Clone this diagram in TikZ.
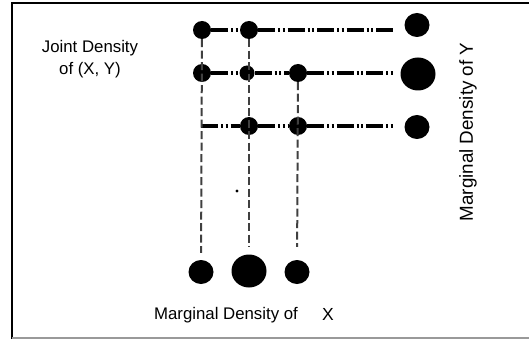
\documentclass[tikz,border=0pt]{standalone}
\usepackage{fontspec}
\setmainfont{Liberation Sans}
\usetikzlibrary{positioning,shapes.geometric}

\begin{document}
\begin{tikzpicture}[
    x=1pt, y=-1pt,
    dot/.style={circle, fill=black, inner sep=0pt, minimum size=18pt},
    smalldot/.style={dot, minimum size=15pt},
    margdot/.style={ellipse, fill=black, inner sep=0pt, minimum width=25pt, minimum height=24pt},
    bigmargdot/.style={ellipse, fill=black, inner sep=0pt, minimum width=35pt, minimum height=33pt},
    rowline/.style={line width=3.3pt, dash pattern=on 17pt off 3pt on 2pt off 2.5pt on 2pt off 3pt},
    colline/.style={draw=black!75, line width=2pt, dash pattern=on 8pt off 3.5pt},
    lbl/.style={font=\fontsize{16.8}{22}\selectfont, align=center, inner sep=0pt},
]
\useasboundingbox (0,0) rectangle (529,339);

% frame
\draw[line width=2.8pt] (12,339) -- (12,3) -- (529,3);
\draw[black!40, line width=1.8pt] (12,338) -- (529,338);

% joint density grid
\node[dot] (r1a) at (202,30) {};
\node[dot] (r1b) at (249,30) {};
\node[dot] (r2a) at (202,73) {};
\node[smalldot] (r2b) at (247,73) {};
\node[dot] (r2c) at (298,73) {};
\coordinate (s3) at (201,126);
\node[dot] (r3b) at (249,126) {};
\node[dot] (r3c) at (298,126) {};
\coordinate (e1) at (393,30);
\coordinate (e2) at (393,73);
\coordinate (e3) at (393,126);

% marginal of Y
\node[margdot] (my1) at (417,25) {};
\node[bigmargdot] (my2) at (418,74) {};
\node[margdot] (my3) at (417,127) {};

% marginal of X
\node[margdot] (mxa) at (201,272) {};
\node[bigmargdot] (mxb) at (249,271) {};
\node[margdot] (mxc) at (297,272) {};

\node[circle, fill=black, inner sep=0pt, minimum size=3.2pt] (spot) at (237,191) {};

% rows
\draw[rowline] (r1a) -- (r1b) -- (e1);
\draw[rowline] (r2a) -- (r2b) -- (r2c) -- (e2);
\draw[rowline] (s3) -- (r3b) -- (r3c) -- (e3);

% columns
\draw[colline, shorten >=7pt] (r1a) -- (mxa);
\draw[colline, shorten >=7pt] (r1b) -- (mxb);
\draw[colline, shorten >=13pt] (r2c) -- (mxc);

% labels
\node[lbl] (joint) at (90,59) {Joint Density\\of (X, Y)};
\node[lbl] (margx) at (226,315) {Marginal Density of};
\node[lbl, font=\fontsize{17.5}{20}\selectfont] (xname) at (328,314) {X};
\node[lbl, font=\fontsize{18.8}{22}\selectfont, rotate=90] (margy) at (468,132) {Marginal Density of Y};
\end{tikzpicture}
\end{document}
